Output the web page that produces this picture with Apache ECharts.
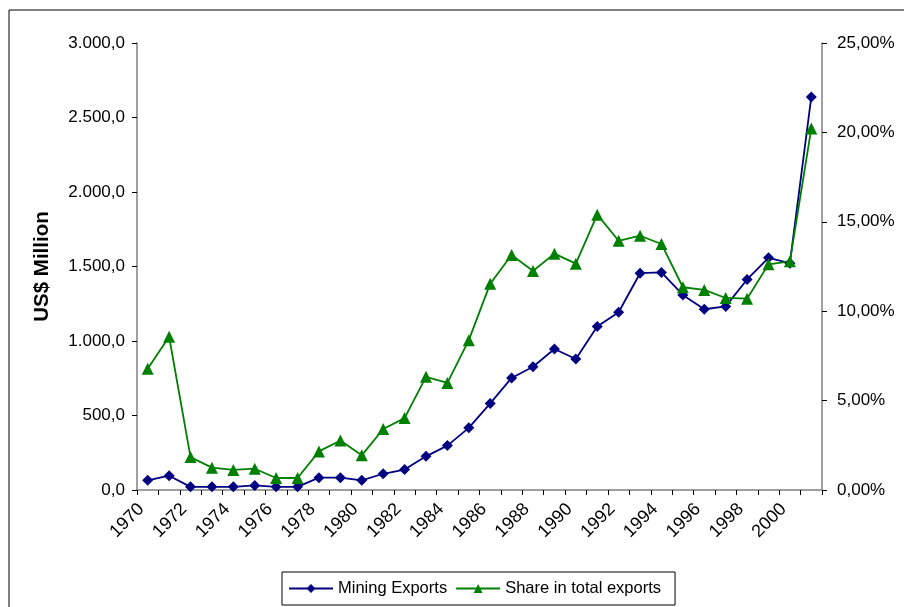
<!DOCTYPE html>
<html>
<head>
<meta charset="utf-8">
<script src="https://cdn.jsdelivr.net/npm/echarts@6/dist/echarts.min.js"></script>
<style>html,body{margin:0;padding:0;background:#fff}#c{width:904px;height:607px}</style>
</head>
<body>
<div id="c"></div>
<script>
const years = ['1970','1971','1972','1973','1974','1975','1976','1977','1978','1979','1980','1981','1982','1983','1984','1985','1986','1987','1988','1989','1990','1991','1992','1993','1994','1995','1996','1997','1998','1999','2000','2001'];
const miningExports = [65,96,21,21,21,31,21,21,83,83,65,109,137,226,298,417,581,752,827,946,879,1097,1193,1455,1460,1309,1213,1232,1413,1558,1522,2638];
const shareTotal = [6.78,8.57,1.84,1.25,1.12,1.19,0.67,0.67,2.16,2.77,1.94,3.41,4.02,6.33,5.99,8.38,11.54,13.14,12.25,13.22,12.66,15.4,13.94,14.22,13.76,11.34,11.19,10.74,10.7,12.62,12.79,20.22];
const leftTicks = [0,500,1000,1500,2000,2500,3000];
const rightTicks = [0,5,10,15,20,25];

function fmtLeft(v){
  const s = Math.round(v).toString().replace(/\B(?=(\d{3})+(?!\d))/g,'.');
  return s + ',0';
}
function fmtRight(v){ return v.toFixed(2).replace('.',',') + '%'; }

const chart = echarts.init(document.getElementById('c'), null, {renderer:'canvas'});
const font = 'Arial, "Liberation Sans", sans-serif';
chart.setOption({
  animation:false,
  backgroundColor:'#fff',
  graphic:[{type:'rect',shape:{x:9,y:10,width:1000,height:700},style:{fill:'none',stroke:'#000',lineWidth:1}}],
  grid:{left:137,right:82,top:43,bottom:117,containLabel:false},
  legend:{
    left:282, top:572, padding:[8,14,8,6],
    borderColor:'#000', borderWidth:1, itemGap:8,
    itemWidth:44, itemHeight:11,
    textStyle:{fontFamily:font,fontSize:16.5,color:'#000'},
    data:['Mining Exports','Share in total exports']
  },
  xAxis:{
    type:'category', data:years, boundaryGap:true,
    axisLine:{lineStyle:{color:'#808080',width:1.5}},
    axisTick:{show:true,interval:0,length:5,lineStyle:{color:'#000'}},
    axisLabel:{interval:1,rotate:45,fontFamily:font,fontSize:18,color:'#000',margin:10,padding:[0,9,0,0]}
  },
  yAxis:[{
    type:'value', min:leftTicks[0], max:leftTicks[leftTicks.length-1], interval:500,
    name:'US$ Million', nameLocation:'middle', nameGap:84, nameRotate:90,
    nameTextStyle:{fontFamily:font,fontSize:20.5,fontWeight:'bold',color:'#000'},
    splitLine:{show:false},
    axisLine:{show:true,lineStyle:{color:'#808080',width:1.5}},
    axisTick:{show:true,length:5,lineStyle:{color:'#000'}},
    axisLabel:{formatter:fmtLeft,fontFamily:font,fontSize:17,color:'#000',margin:12}
  },{
    type:'value', min:rightTicks[0], max:rightTicks[rightTicks.length-1], interval:5,
    position:'right',
    splitLine:{show:false},
    axisLine:{show:true,lineStyle:{color:'#808080',width:1.5}},
    axisTick:{show:true,length:5,lineStyle:{color:'#000'}},
    axisLabel:{formatter:fmtRight,fontFamily:font,fontSize:17,color:'#000',margin:15}
  }],
  series:[{
    name:'Mining Exports', type:'line', yAxisIndex:0, data:miningExports,
    symbol:'diamond', symbolSize:11, showAllSymbol:true,
    lineStyle:{color:'#000080',width:1.8}, itemStyle:{color:'#000080'}
  },{
    name:'Share in total exports', type:'line', yAxisIndex:1, data:shareTotal,
    symbol:'triangle', symbolSize:12, showAllSymbol:true,
    lineStyle:{color:'#008000',width:1.8}, itemStyle:{color:'#008000'}
  }]
});
</script>
</body>
</html>
